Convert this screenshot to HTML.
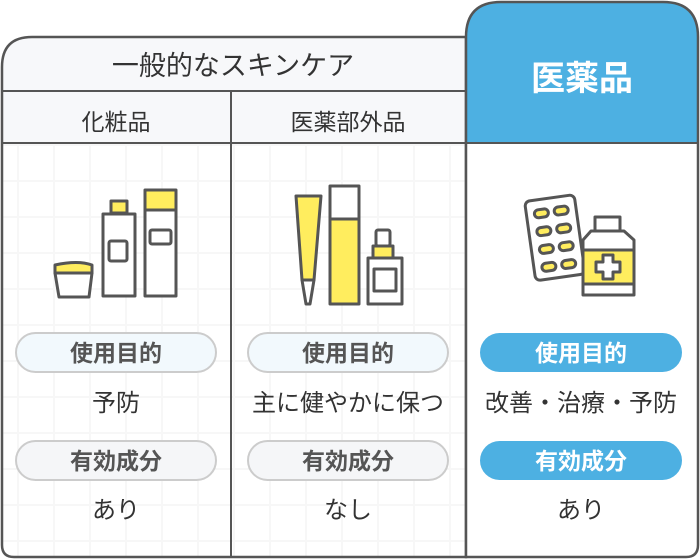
<!DOCTYPE html>
<html><head><meta charset="utf-8"><style>
body{margin:0;background:#fff;}
svg{display:block;}
text{font-family:"Liberation Sans","Noto Sans CJK JP",sans-serif;}
</style></head><body>
<svg width="700" height="560" viewBox="0 0 700 560" xmlns="http://www.w3.org/2000/svg">
<defs>
<pattern id="grid" x="17" y="0" width="36" height="36" patternUnits="userSpaceOnUse">
<rect width="36" height="36" fill="#fff"/>
<path d="M0 0H36M0 0V36" stroke="#f7f7f7" stroke-width="4"/>
</pattern>
<clipPath id="lc"><path d="M32 37H466V557H14Q2 557 2 545V67Q2 37 32 37Z"/></clipPath>
</defs>
<g clip-path="url(#lc)">
<rect x="0" y="143" width="466" height="420" fill="url(#grid)"/>
<rect x="0" y="37" width="466" height="106" fill="#f7f8fa"/>
</g>
<path d="M32 37H466V557H14Q2 557 2 545V67Q2 37 32 37Z" fill="none" stroke="#555" stroke-width="2.5"/>
<line x1="2" y1="91" x2="466" y2="91" stroke="#555" stroke-width="2"/>
<line x1="2" y1="143" x2="466" y2="143" stroke="#555" stroke-width="2"/>
<line x1="231" y1="91" x2="231" y2="557" stroke="#555" stroke-width="2"/>
<path d="M501 2H663Q698 2 698 37V545Q698 557 686 557H466V37Q466 2 501 2Z" fill="#fff"/>
<path d="M501 2H663Q698 2 698 37V143H466V37Q466 2 501 2Z" fill="#4db0e2"/>
<path d="M501 2H663Q698 2 698 37V545Q698 557 686 557H466V37Q466 2 501 2Z" fill="none" stroke="#555" stroke-width="2.5"/>
<line x1="466" y1="143" x2="698" y2="143" stroke="#555" stroke-width="2"/>
<text x="233" y="75" font-size="27" text-anchor="middle" fill="#333">一般的なスキンケア</text>
<text x="116" y="130" font-size="23" text-anchor="middle" fill="#333">化粧品</text>
<text x="348" y="130" font-size="23" text-anchor="middle" fill="#333">医薬部外品</text>
<text x="582" y="90" font-size="34" font-weight="bold" text-anchor="middle" fill="#fff">医薬品</text>
<g stroke="#555" stroke-width="3" stroke-linejoin="round">
<path d="M55 265Q78 260 92 265V273H55Z" fill="#ffed5e"/>
<path d="M55 273H92L89 297H59Z" fill="#fff"/>
<rect x="111" y="201" width="16" height="12" fill="#ffed5e"/>
<rect x="103" y="214" width="32" height="82" fill="#fff"/>
<rect x="109" y="241" width="18" height="20" rx="2" fill="#fff"/>
<rect x="145" y="190" width="31" height="20" fill="#ffed5e"/>
<rect x="145" y="210" width="31" height="86" fill="#fff"/>
<rect x="150" y="230" width="21" height="14" rx="2" fill="#fff"/>
<path d="M296 196H321L314 280H302Z" fill="#ffed5e"/>
<path d="M302 280H314L310 304H306Z" fill="#fff"/>
<rect x="330" y="186" width="29" height="33" fill="#fff"/>
<rect x="330" y="219" width="29" height="85" fill="#ffed5e"/>
<rect x="376" y="230" width="14" height="16" rx="2" fill="#fff"/>
<rect x="373" y="246" width="20" height="12" fill="#ffed5e"/>
<rect x="368" y="258" width="34" height="46" fill="#fff"/>
<rect x="374" y="269" width="22" height="22" fill="#fff"/>
<g transform="rotate(-8 560 238)">
<rect x="530" y="197" width="50" height="80" rx="5" fill="#fff"/>
<g fill="#ffed5e">
<rect x="538" y="207" width="14" height="8" rx="4"/><rect x="558" y="207" width="14" height="8" rx="4"/>
<rect x="538" y="225" width="14" height="8" rx="4"/><rect x="558" y="225" width="14" height="8" rx="4"/>
<rect x="538" y="243" width="14" height="8" rx="4"/><rect x="558" y="243" width="14" height="8" rx="4"/>
<rect x="538" y="261" width="14" height="8" rx="4"/><rect x="558" y="261" width="14" height="8" rx="4"/>
</g></g>
<rect x="595" y="217" width="25" height="14" fill="#fff"/>
<path d="M591 231H624L634 240V295H583V240Z" fill="#fff"/>
<rect x="583" y="250" width="51" height="34" fill="#ffed5e"/>
<path d="M603 255H613V262H620V272H613V279H603V272H596V262H603Z" fill="#fff"/>
</g>
<g stroke="#ccc" stroke-width="2">
<rect x="16" y="333" width="200" height="39" rx="19.5" fill="#f2f9fd"/>
<rect x="248" y="333" width="200" height="39" rx="19.5" fill="#f2f9fd"/>
<rect x="16" y="441" width="200" height="39" rx="19.5" fill="#f5f6f8"/>
<rect x="248" y="441" width="200" height="39" rx="19.5" fill="#f5f6f8"/>
</g>
<rect x="480" y="333" width="202" height="39" rx="19.5" fill="#4db0e2"/>
<rect x="480" y="441" width="202" height="39" rx="19.5" fill="#4db0e2"/>
<g font-size="23" font-weight="bold" text-anchor="middle">
<text x="116" y="361" fill="#555">使用目的</text>
<text x="348" y="361" fill="#555">使用目的</text>
<text x="581" y="361" fill="#fff">使用目的</text>
<text x="116" y="469" fill="#555">有効成分</text>
<text x="348" y="469" fill="#555">有効成分</text>
<text x="581" y="469" fill="#fff">有効成分</text>
</g>
<g font-size="24" text-anchor="middle" fill="#333">
<text x="116" y="411">予防</text>
<text x="348" y="411">主に健やかに保つ</text>
<text x="581" y="411">改善・治療・予防</text>
<text x="116" y="518">あり</text>
<text x="348" y="518">なし</text>
<text x="581" y="518">あり</text>
</g>
</svg>
</body></html>
